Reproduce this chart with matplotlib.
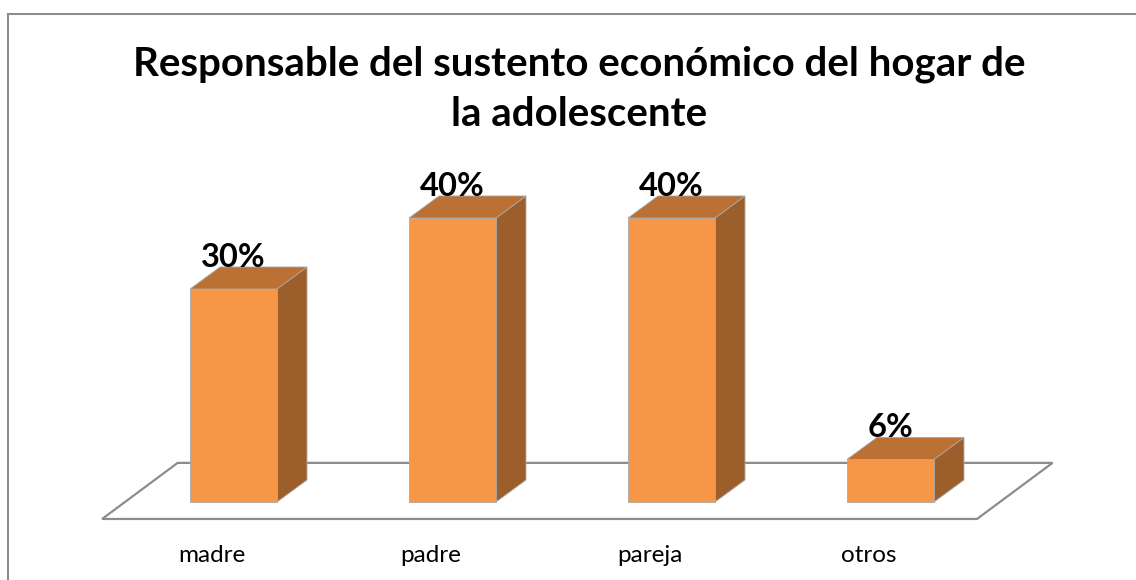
import matplotlib.pyplot as plt
from matplotlib.patches import Polygon
from matplotlib.lines import Line2D

# --- Data ---
categories = ["madre", "padre", "pareja", "otros"]
values = [30, 40, 40, 6]
value_labels = ["30%", "40%", "40%", "6%"]
title = "Responsable del sustento económico del hogar de\nla adolescente"

# --- Style ---
W, H = 1136, 580
front_color = "#F79646"
top_color = "#BB7034"
side_color = "#9C5E2B"
edge_color = "#A8A8A8"
floor_color = "#8C8C8C"
bar_w = 0.397          # category units
dx, dy = 0.137, 3.1    # 3D depth offset (x in category units, y in %)
fdx, fdy = 0.345, 7.9  # floor depth offset

fig = plt.figure(figsize=(W / 100, H / 100), dpi=100)
ax = fig.add_axes([0, 0, 1, 1])
ax.set_xlim(-233.5 / 219, (W - 233.5) / 219)
ax.set_ylim(-78 / 7.1, (H - 78) / 7.1)
ax.axis("off")

# --- Floor ---
n = len(categories)
fl, fr = -0.6, n - 0.5 - 0.105
fy = -2.39
floor = Polygon(
    [(fl, fy), (fr, fy), (fr + fdx, fy + fdy), (fl + fdx, fy + fdy)],
    closed=True, facecolor="white", edgecolor=floor_color, lw=1.6, zorder=1,
)
ax.add_patch(floor)

# --- 3D bars ---
for i, v in enumerate(values):
    x0, x1 = i - bar_w / 2, i + bar_w / 2
    front = Polygon([(x0, 0), (x1, 0), (x1, v), (x0, v)],
                    facecolor=front_color, edgecolor=edge_color, lw=0.6, zorder=3)
    top = Polygon([(x0, v), (x1, v), (x1 + dx, v + dy), (x0 + dx, v + dy)],
                  facecolor=top_color, edgecolor=edge_color, lw=0.6, zorder=3)
    side = Polygon([(x1, 0), (x1 + dx, dy), (x1 + dx, v + dy), (x1, v)],
                   facecolor=side_color, edgecolor=edge_color, lw=0.6, zorder=3)
    for p in (side, top, front):
        ax.add_patch(p)
    ax.text(i, v + dy - 0.65, value_labels[i], ha="center", va="bottom",
            fontsize=23.5, fontweight="bold", family="Lato", zorder=4)
    ax.text(i - 0.1, -7.5, categories[i], ha="center", va="center",
            fontsize=17.5, family="Lato", zorder=4)

# --- Title ---
fig.text(0.51, 1 - 89 / H, title, ha="center", va="center", fontsize=29,
         fontweight="bold", family="Lato", linespacing=1.42)

# --- Chart border (left and top edges visible) ---
bx, by = 7.5 / W, 1 - 13.5 / H
fig.add_artist(Line2D([bx, bx], [0, by], transform=fig.transFigure,
                      color="#8C8C8C", lw=1.5))
fig.add_artist(Line2D([bx, 1], [by, by], transform=fig.transFigure,
                      color="#8C8C8C", lw=1.5))

fig.savefig("out.png", dpi=100)
